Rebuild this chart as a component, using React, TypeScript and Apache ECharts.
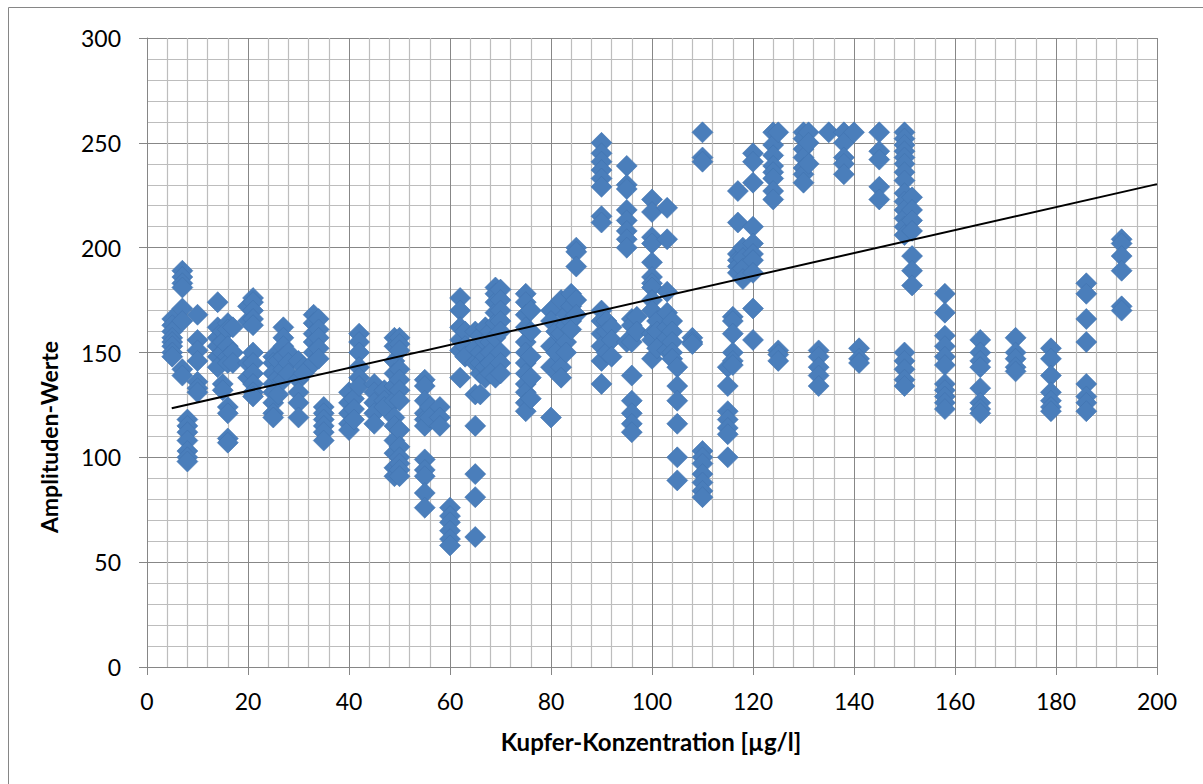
import React, { useEffect, useRef } from "react";
import * as echarts from "echarts";

// Each entry: [Kupfer-Konzentration, [Amplituden-Werte ...]]
const groupA: [number, number[]][] = [
  [5, [166, 163, 160, 157, 155, 153, 150, 148]],
  [7, [189, 186, 183, 181, 171, 165, 142, 139]],
  [8, [118, 115, 112, 108, 103, 100, 98]],
  [10, [168, 156, 151, 146, 136, 133, 131]],
  [14, [174, 162, 157, 153, 148, 143]],
  [15, [160, 155, 150, 135, 132]],
  [16, [164, 161, 153, 148, 145, 124, 121, 109, 107]],
  [17, [162, 150, 145]],
  [20, [172, 165, 145, 138]],
  [21, [176, 174, 170, 166, 163, 150, 145, 140, 135, 131, 129]],
  [25, [148, 145, 140, 135, 131, 126, 121, 119]],
  [26, [146, 138, 130]],
  [27, [162, 157, 153, 148, 142, 137]],
  [28, [150, 145, 140]],
  [30, [146, 137, 131, 126, 119]],
  [31, [143, 140]],
  [33, [168, 164, 159, 155, 150, 145]],
  [34, [166, 161, 157, 152, 147]],
  [35, [124, 121, 118, 115, 112, 108]],
];

const groupB: [number, number[]][] = [
  [40, [131, 126, 121, 116, 113]],
  [41, [128, 123, 118]],
  [42, [159, 155, 150, 143, 138, 134]],
  [45, [135, 131, 126, 121, 116]],
  [47, [132, 127, 124]],
  [49, [157, 153, 146, 140, 134, 127, 119, 115, 108, 102, 95, 91]],
  [50, [157, 154, 151, 142, 137, 132, 127, 113, 105, 100, 97, 94, 91]],
  [55, [137, 134, 127, 121, 118, 115, 99, 94, 91, 83, 76]],
  [56, [124, 119]],
  [58, [124, 119, 115]],
  [60, [76, 72, 69, 65, 61, 58]],
  [62, [176, 170, 162, 156, 151, 138]],
  [63, [160, 153, 148]],
  [65, [160, 152, 145, 130, 115, 92, 81, 62]],
  [66, [158, 150, 145, 140, 130]],
  [67, [162, 155, 148, 143, 138]],
  [68, [160, 155, 150, 145, 140]],
  [69, [181, 178, 174, 169, 164, 157, 138]],
  [70, [180, 175, 170, 165, 160, 150, 145, 140]],
  [75, [178, 174, 168, 162, 155, 150, 145, 140, 135, 131, 126, 122]],
  [76, [170, 160, 148, 138, 128]],
];

const groupC: [number, number[]][] = [
  [80, [170, 165, 153, 143, 119]],
  [81, [160, 150]],
  [82, [175, 159, 143, 138]],
  [83, [168, 163, 155, 150]],
  [84, [178, 172, 165, 161]],
  [85, [200, 198, 191, 175, 168]],
  [90, [250, 245, 241, 237, 233, 229, 215, 212, 170, 165, 159, 153, 146, 135]],
  [91, [165, 160, 150]],
  [92, [162, 156, 148]],
  [95, [239, 230, 228, 218, 213, 208, 204, 200, 155]],
  [96, [166, 163, 155, 139, 127, 121, 116, 112]],
  [97, [167, 160]],
  [100, [223, 217, 205, 202, 193, 186, 183, 181, 175, 170, 159, 156, 147]],
  [101, [165, 160, 152]],
  [103, [219, 204, 179, 169, 162, 157, 151]],
  [104, [165, 160, 155, 150, 147]],
  [105, [143, 134, 127, 116, 100, 89]],
  [108, [157, 155, 154]],
  [110, [255, 243, 241, 103, 100, 97, 92, 88, 84, 81]],
  [115, [143, 134, 122, 118, 114, 111, 100]],
  [116, [167, 165, 159, 150, 146, 144]],
  [117, [227, 212, 197, 194, 191, 188]],
  [118, [200, 195, 190, 185]],
];

const groupD: [number, number[]][] = [
  [120, [245, 241, 231, 210, 202, 197, 194, 188, 171, 156]],
  [124, [255, 249, 244, 239, 236, 233, 227, 223]],
  [125, [255, 151, 149, 146]],
  [130, [255, 252, 247, 243, 238, 235, 231]],
  [131, [255, 250, 240]],
  [133, [151, 148, 143, 139, 134]],
  [135, [255]],
  [138, [255, 250, 243, 240, 235]],
  [140, [255]],
  [141, [152, 147, 145]],
  [145, [255, 246, 242, 229, 223]],
  [150, [255, 252, 249, 246, 243, 240, 236, 232, 226, 222, 218, 214, 210, 206, 150, 146, 142, 137, 134]],
  [151.5, [224, 218, 213, 208, 196, 189, 182]],
  [158, [178, 169, 158, 153, 148, 144, 135, 132, 129, 126, 123]],
  [165, [156, 150, 146, 143, 133, 126, 123, 121]],
  [172, [157, 150, 147, 143, 141]],
  [179, [152, 147, 139, 131, 127, 124, 122]],
  [186, [183, 178, 166, 155, 135, 129, 126, 122]],
  [193, [204, 202, 196, 189, 172, 170]],
];

// Linear trend line endpoints
const trendLine: [number, number][] = [
  [4.9, 123.4],
  [200, 230.3],
];

const xTicks = { min: 0, max: 200, interval: 20 };
const yTicks = { min: 0, max: 300, interval: 50 };

const FONT = "Lato, 'Open Sans', sans-serif";

export default function App() {
  const ref = useRef<HTMLDivElement>(null);

  useEffect(() => {
    document.body.style.margin = "0";
    if (!ref.current) return;
    const chart = echarts.init(ref.current, null, { renderer: "svg" });
    const points: [number, number][] = [];
    [groupA, groupB, groupC, groupD].forEach((g) =>
      g.forEach(([x, ys]) => ys.forEach((y) => points.push([x, y])))
    );

    const axisCommon = {
      axisLine: { show: true, onZero: false, lineStyle: { color: "#868686", width: 1 } },
      axisTick: { show: true, inside: false, length: 8, lineStyle: { color: "#868686", width: 1 } },
      splitLine: { show: true, lineStyle: { color: "#878787", width: 1 } },
      minorTick: { show: false, splitNumber: 5 },
      minorSplitLine: { show: true, lineStyle: { color: "#bdbdbd", width: 1.2 } },
    };

    chart.setOption({
      animation: false,
      backgroundColor: "#ffffff",
      grid: { left: 147, top: 38, width: 1010, height: 629, containLabel: false },
      xAxis: {
        type: "value",
        ...xTicks,
        ...axisCommon,
        axisLabel: { color: "#000", fontFamily: FONT, fontSize: 23, margin: 22 },
      },
      yAxis: {
        type: "value",
        ...yTicks,
        ...axisCommon,
        axisLabel: { color: "#000", fontFamily: FONT, fontSize: 23, margin: 26 },
      },
      graphic: [
        {
          type: "rect",
          shape: { x: 8.5, y: 7.5, width: 1220, height: 820 },
          style: { fill: "none", stroke: "#868686", lineWidth: 1 },
          silent: true,
        },
        {
          type: "text",
          x: 651,
          y: 741,
          style: {
            text: "Kupfer-Konzentration [µg/l]",
            fontFamily: FONT,
            fontWeight: "bold",
            fontSize: 24,
            fill: "#000",
            align: "center",
            verticalAlign: "middle",
          },
        },
        {
          type: "text",
          x: 49,
          y: 437,
          rotation: Math.PI / 2,
          style: {
            text: "Amplituden-Werte",
            fontFamily: FONT,
            fontWeight: "bold",
            fontSize: 23,
            fill: "#000",
            align: "center",
            verticalAlign: "middle",
          },
        },
      ],
      series: [
        {
          type: "scatter",
          data: points,
          symbol: "diamond",
          symbolSize: [21, 21],
          itemStyle: { color: "#4a7ebb", borderColor: "#4274b0", borderWidth: 0.6, opacity: 1 },
          z: 2,
        },
        {
          type: "line",
          data: trendLine,
          symbol: "none",
          lineStyle: { color: "#000", width: 2 },
          z: 3,
        },
      ],
    });
    return () => chart.dispose();
  }, []);

  return <div ref={ref} style={{ width: 1203, height: 784 }} />;
}
